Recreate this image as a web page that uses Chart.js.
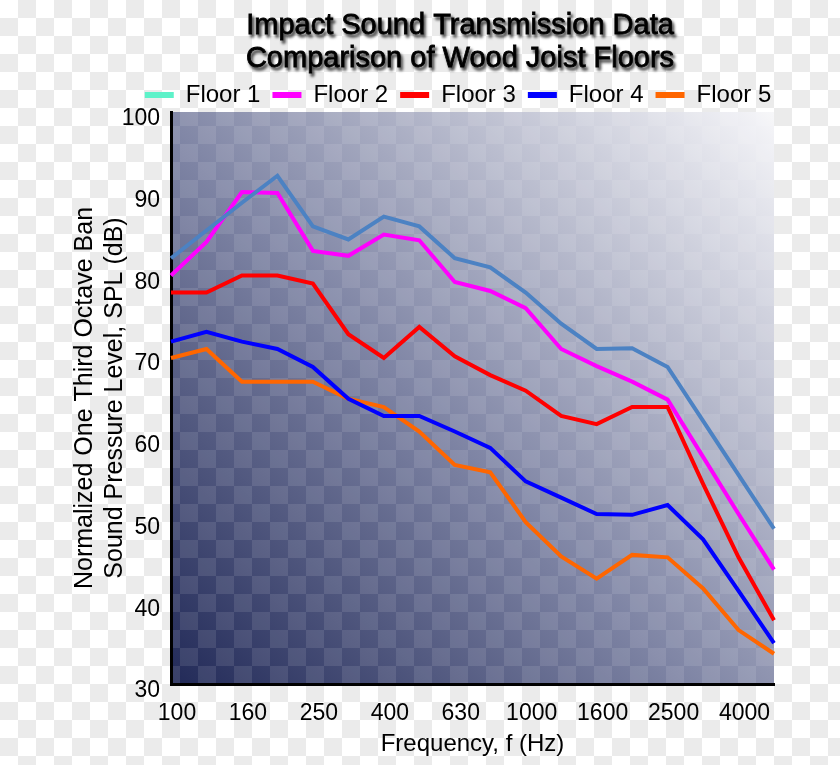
<!DOCTYPE html>
<html>
<head>
<meta charset="utf-8">
<script src="https://cdn.jsdelivr.net/npm/chart.js@4"></script>
<style>
  html, body { margin: 0; padding: 0; }
  body {
    width: 840px; height: 765px; overflow: hidden;
    background-color: #ffffff;
    background-image:
      conic-gradient(#ebebeb 25%, #ffffff 0 50%, #ebebeb 0 75%, #ffffff 0);
    background-size: 36px 36px;
  }
  #wrap { position: relative; width: 840px; height: 765px; }
</style>
</head>
<body>
<div id="wrap"><canvas id="soundChart" width="840" height="765"></canvas></div>
<script>
// Frequency bands (Hz) and which ones get a label
const bands = ['100', '125', '160', '200', '250', '315', '400', '500', '630', '800',
               '1000', '1250', '1600', '2000', '2500', '3150', '4000', '5000'];
const shownBands = ['100', '160', '250', '400', '630', '1000', '1600', '2500', '4000'];

// SPL values (dB)
const floor1 = [82.1, 85.5, 88.9, 92.2, 86.0, 84.4, 87.2, 86.0, 82.1, 81.0, 77.9, 74.1, 71.0, 71.1, 68.8, 62.2, 55.6, 49.0];
const floor2 = [80.0, 84.1, 90.2, 90.1, 83.0, 82.4, 85.0, 84.3, 79.2, 78.1, 76.0, 71.0, 68.9, 67.0, 64.8, 57.8, 50.8, 44.0];
const floor3 = [77.9, 77.9, 80.0, 80.0, 79.0, 72.8, 69.9, 73.7, 70.1, 67.8, 65.9, 62.8, 61.8, 63.9, 63.9, 54.5, 45.5, 37.8];
const floor4 = [71.9, 73.1, 71.9, 71.0, 68.8, 64.9, 62.8, 62.8, 60.9, 58.9, 54.8, 52.8, 50.8, 50.7, 51.9, 47.7, 41.4, 35.0];
const floor5 = [69.9, 71.0, 67.0, 67.0, 67.0, 64.9, 63.9, 60.9, 56.8, 55.9, 49.8, 45.6, 42.9, 45.8, 45.5, 41.7, 36.6, 33.7];

const seriesNames = ['Floor 1', 'Floor 2', 'Floor 3', 'Floor 4', 'Floor 5'];
const lineColors = ['#4c82c3', '#ff00ff', '#ff0000', '#0000ff', '#ff6600'];
const legendColors = ['#5ef2c9', '#ff00ff', '#ff0000', '#0000ff', '#ff6600'];
const titleLines = ['Impact Sound Transmission Data', 'Comparison of Wood Joist Floors'];

const FONT = "'Liberation Sans', Arial, sans-serif";

// shaded, checkered plot background
const plotBackground = {
    id: 'plotBackground',
    beforeDraw(chart) {
        const {ctx, chartArea: a} = chart;
        ctx.save();
        let grad = ctx.createLinearGradient(a.left, a.bottom, a.right, a.top);
        grad.addColorStop(0, '#222a58');
        grad.addColorStop(0.45, '#7e84a4');
        grad.addColorStop(1, '#f6f6f9');
        ctx.fillStyle = grad;
        ctx.fillRect(a.left, a.top, a.right - a.left, a.bottom - a.top);
        // checker overlay
        const sq = 18;
        ctx.beginPath();
        ctx.rect(a.left, a.top, a.right - a.left, a.bottom - a.top);
        ctx.clip();
        ctx.fillStyle = 'rgba(255,255,255,0.1)';
        for (let y = 0; y * sq < 765; y++) {
            for (let x = 0; x * sq < 840; x++) {
                if ((x + y) % 2 === 0) ctx.fillRect(x * sq, y * sq, sq, sq);
            }
        }
        ctx.restore();
    },
    // nudge legend right/down so it sits like the original
    afterLayout(chart) {
        const lg = chart.legend;
        lg.left += 71; lg.right += 71;
        lg.top += 5; lg.bottom += 5;
    }
};

// title with a drop shadow
const shadowTitle = {
    id: 'shadowTitle',
    afterDraw(chart) {
        const ctx = chart.ctx;
        ctx.save();
        ctx.font = '29px ' + FONT;
        ctx.textAlign = 'center';
        ctx.textBaseline = 'middle';
        ctx.fillStyle = '#000';
        ctx.strokeStyle = '#000';
        ctx.lineWidth = 0.8;
        ctx.shadowColor = 'rgba(0,0,0,0.7)';
        ctx.shadowOffsetX = 2;
        ctx.shadowOffsetY = 3;
        ctx.shadowBlur = 3;
        titleLines.forEach((t, i) => {
            ctx.fillText(t, 460, 26 + i * 33);
            ctx.strokeText(t, 460, 26 + i * 33);
        });
        ctx.restore();
    }
};

const datasets = seriesNames.map((name, i) => ({
    label: name,
    data: [floor1, floor2, floor3, floor4, floor5][i],
    borderColor: lineColors[i],
    backgroundColor: legendColors[i],
    borderWidth: 4,
    pointRadius: 0,
    tension: 0,
    fill: false
}));

const ctx = document.getElementById('soundChart').getContext('2d');
let soundChart = new Chart(ctx, {
    type: 'line',
    data: { labels: bands, datasets: datasets },
    plugins: [plotBackground, shadowTitle],
    options: {
        responsive: false,
        animation: false,
        layout: { padding: { top: 66, right: 66, left: 0, bottom: 0 } },
        plugins: {
            title: { display: false },
            tooltip: { enabled: false },
            legend: {
                display: true,
                fullSize: true,
                labels: {
                    color: '#000',
                    font: { family: FONT, size: 24 },
                    boxWidth: 29,
                    boxHeight: 6,
                    padding: 12,
                    generateLabels: (chart) => chart.data.datasets.map((ds, i) => ({
                        text: ds.label,
                        fillStyle: legendColors[i],
                        strokeStyle: legendColors[i],
                        lineWidth: 0,
                        hidden: false,
                        datasetIndex: i
                    }))
                }
            }
        },
        scales: {
            x: {
                grid: { display: false, drawTicks: false },
                border: { display: true, color: '#000', width: 3 },
                ticks: {
                    autoSkip: false,
                    maxRotation: 0,
                    color: '#000',
                    padding: 16,
                    labelOffset: 6,
                    font: { family: FONT, size: 23 },
                    callback: function (value) {
                        const lab = this.getLabelForValue(value);
                        return shownBands.includes(lab) ? lab : '';
                    }
                },
                title: {
                    display: true,
                    text: 'Frequency, f (Hz)',
                    color: '#000',
                    font: { family: FONT, size: 24 },
                    padding: { top: 0, bottom: 6 }
                },
                afterFit: (scale) => { scale.height = 81; }
            },
            y: {
                min: 30,
                max: 100,
                grid: { display: false, drawTicks: false },
                border: { display: true, color: '#000', width: 3 },
                ticks: {
                    stepSize: 10,
                    color: '#000',
                    padding: 11,
                    labelOffset: 7,
                    font: { family: FONT, size: 23 }
                },
                title: {
                    display: true,
                    text: ['Normalized One Third Octave Ban', 'Sound Pressure Level, SPL (dB)'],
                    color: '#000',
                    font: { family: FONT, size: 25, lineHeight: 1.2 },
                    padding: { top: 70, bottom: 0 }
                },
                afterFit: (scale) => { scale.width = 171; }
            }
        }
    }
});
</script>
</body>
</html>
